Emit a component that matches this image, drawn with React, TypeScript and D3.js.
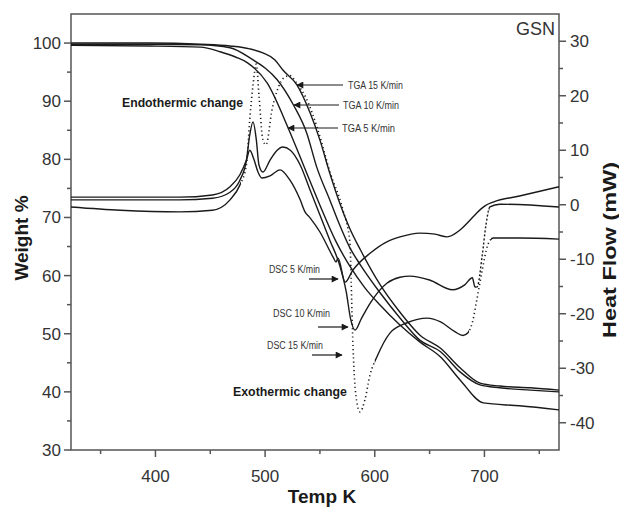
import React from 'react';
import * as d3 from 'd3';

// axis domains and ticks
const tempDomain = [323, 768];
const weightDomain = [30, 105];
const heatDomain = [-45, 35];
const tempTicks = [400, 500, 600, 700];
const tempMinor = [350, 450, 550, 650, 750];
const weightTicks = [30, 40, 50, 60, 70, 80, 90, 100];
const weightMinor = [35, 45, 55, 65, 75, 85, 95];
const heatTicks = [-40, -30, -20, -10, 0, 10, 20, 30];
const heatMinor = [-35, -25, -15, -5, 5, 15, 25];

// TGA curves: [Temp K, Weight %]
const tga15 = [[323, 100], [395, 100], [441, 99.8], [468, 99.5], [486, 99], [498, 98.3], [509, 97.1], [516, 95.4], [529, 92.8], [541, 88], [550, 83.3], [559, 77.6], [568, 72.5], [577, 68.2], [587, 64.4], [605, 58.4], [623, 53.7], [641, 49.8], [660, 47.5], [678, 44.1], [696, 41.5], [714, 41], [742, 40.7], [768, 40.3]];
const tga10 = [[323, 99.8], [395, 99.8], [441, 99.7], [468, 99.2], [489, 97.1], [500, 95.7], [511, 93.7], [526, 89.3], [538, 84.5], [547, 78.7], [559, 73], [568, 68.7], [577, 64.9], [587, 61.8], [605, 57], [623, 52.7], [641, 48.9], [660, 46.9], [678, 43.4], [696, 41.2], [714, 40.7], [742, 40.3], [768, 40]];
const tga5 = [[323, 99.6], [395, 99.5], [441, 99.3], [459, 98.5], [473, 97.6], [484, 96.6], [502, 93.1], [521, 85.4], [532, 80.4], [538, 77.6], [550, 72.1], [564, 66.1], [577, 61.7], [591, 57.9], [605, 54.9], [623, 51.5], [641, 48.6], [660, 46], [678, 42], [699, 38.1], [732, 37.6], [768, 36.9]];

// DSC curves: [Temp K, Heat Flow mW]
const dsc5 = [[323, 1.4], [368, 1.4], [422, 1.4], [452, 1.8], [468, 3.3], [477, 5.5], [483, 8.2], [486, 10], [490, 8.2], [493.5, 6], [497, 4.9], [504.5, 5.3], [513.6, 6.4], [522.7, 4.5], [532, 0.9], [536.4, -1.3], [541, -2.4], [550, -5], [562, -9.6], [564.7, -10.5], [566.5, -9.8], [573, -14.2], [580, -12], [595.7, -8.9], [611, -6.8], [623, -5.9], [641, -5.2], [655, -5.4], [666, -5.9], [678, -4.6], [687, -2.8], [693, -1.5], [700.5, -0.2], [708, 0.5], [732, 1.6], [768, 3.3]];
const dsc10 = [[323, 0.9], [368, 0.9], [422, 0.9], [452, 1.2], [468, 2.3], [477, 4.5], [483, 8.2], [486, 12.8], [489, 15.2], [492, 11.9], [494.4, 7.3], [498, 6], [504.5, 8.2], [511, 10], [516, 10.6], [523, 10], [532, 7.3], [541, 2.7], [550, -1.9], [559, -6.5], [568, -11.1], [574, -16], [578, -21], [582, -23], [588, -20.8], [596, -18], [611, -14.4], [623, -13.3], [632, -13.1], [650, -13.8], [671, -15.6], [682, -14.7], [689, -13.4], [691.4, -15.1], [693.2, -15.1], [698, -9.3], [701.4, -3.7], [705, -0.4], [714, 0.1], [768, -0.4]];
const dsc15 = [[323, -0.4], [368, -1], [422, -1.3], [452, -1], [468, 0.9], [477, 3.6], [483, 7.3], [486, 15.6], [489, 22], [492, 25.8], [494.4, 20.1], [498, 11.9], [500.8, 11], [506.3, 17.4], [511.8, 21.4], [517.2, 23.3], [522.7, 23.7], [529.1, 22.2], [537.3, 19.6], [548.2, 13.7], [559.2, 6], [571, -1], [577.4, -7], [578.5, -14], [579.5, -22], [581, -30], [583.5, -36], [586.5, -38], [591, -35.8], [595.7, -31.2], [602, -27.9], [614, -23.5], [629, -21.7], [648, -20.8], [660, -21.5], [673, -23.3], [680.5, -24], [685, -23.5], [689.6, -21.1], [693, -17.5], [698, -12], [703, -7.4], [708, -6.1], [732, -6.1], [768, -6.3]];

// temperature ranges where the sparse DSC samples show as dots
const dsc15Dotted = [[478, 600], [686, 706]];
const dsc10Dotted = [[693, 704]];

const font = '"Liberation Sans", Arial, sans-serif';
const ink = '#1a1a1a';
const axisColor = '#555';
const textColor = '#333';

export default function App() {
  const left = 71, right = 559, top = 14, bottom = 450;
  const x = d3.scaleLinear().domain(tempDomain).range([left, right]);
  const yW = d3.scaleLinear().domain(weightDomain).range([bottom, top]);
  const yH = d3.scaleLinear().domain(heatDomain).range([bottom, top]);

  const lineW = d3.line<number[]>().x(d => x(d[0])).y(d => yW(d[1])).curve(d3.curveMonotoneX);
  const lineH = d3.line<number[]>().x(d => x(d[0])).y(d => yH(d[1])).curve(d3.curveMonotoneX);

  const clipRects = (ranges: number[][]) => ranges.map((r, i) => (
    <rect key={i} x={x(r[0])} y={top} width={x(r[1]) - x(r[0])} height={bottom - top} />
  ));
  const outsideRanges = (ranges: number[][]) => {
    const out: number[][] = [];
    let start = tempDomain[0];
    ranges.forEach(r => { out.push([start, r[0]]); start = r[1]; });
    out.push([start, tempDomain[1]]);
    return out;
  };

  const smallText = { fontFamily: font, fontSize: 10, fill: textColor };
  const tickText = { fontFamily: font, fontSize: 17, fill: textColor };

  return (
    <div style={{ position: 'absolute', left: 0, top: 0 }}>
      <svg width={619} height={508} viewBox="0 0 619 508" style={{ display: 'block', background: '#fff' }}>
        <defs>
          <marker id="arr" viewBox="0 0 10 10" refX="9" refY="5" markerWidth="9" markerHeight="7" orient="auto" markerUnits="userSpaceOnUse">
            <path d="M0,0 L10,5 L0,10 z" fill={ink} />
          </marker>
          <clipPath id="d15dot">{clipRects(dsc15Dotted)}</clipPath>
          <clipPath id="d15solid">{clipRects(outsideRanges(dsc15Dotted))}</clipPath>
          <clipPath id="d10dot">{clipRects(dsc10Dotted)}</clipPath>
          <clipPath id="d10solid">{clipRects(outsideRanges(dsc10Dotted))}</clipPath>
        </defs>

        {/* frame */}
        <rect x={left} y={top} width={right - left} height={bottom - top} fill="none" stroke={axisColor} strokeWidth={1.5} />

        {/* bottom axis */}
        {tempTicks.map(t => (
          <g key={t}>
            <line x1={x(t)} x2={x(t)} y1={bottom} y2={bottom + 7} stroke={axisColor} strokeWidth={1.5} />
            <text x={x(t)} y={482} textAnchor="middle" {...tickText}>{t}</text>
          </g>
        ))}
        {tempMinor.map(t => (
          <line key={t} x1={x(t)} x2={x(t)} y1={bottom} y2={bottom + 4} stroke={axisColor} strokeWidth={1.5} />
        ))}

        {/* left axis */}
        {weightTicks.map(t => (
          <g key={t}>
            <line x1={left - 7} x2={left} y1={yW(t)} y2={yW(t)} stroke={axisColor} strokeWidth={1.5} />
            <text x={61} y={yW(t) + 6} textAnchor="end" {...tickText}>{t}</text>
          </g>
        ))}
        {weightMinor.map(t => (
          <line key={t} x1={left - 4} x2={left} y1={yW(t)} y2={yW(t)} stroke={axisColor} strokeWidth={1.5} />
        ))}

        {/* right axis */}
        {heatTicks.map(t => (
          <g key={t}>
            <line x1={right} x2={right + 7} y1={yH(t)} y2={yH(t)} stroke={axisColor} strokeWidth={1.5} />
            <text x={570} y={yH(t) + 6} textAnchor="start" {...tickText}>{t}</text>
          </g>
        ))}
        {heatMinor.map(t => (
          <line key={t} x1={right} x2={right + 4} y1={yH(t)} y2={yH(t)} stroke={axisColor} strokeWidth={1.5} />
        ))}

        {/* axis titles */}
        <text x={322} y={503} textAnchor="middle" fontFamily={font} fontSize={19} fontWeight="bold" fill={ink}>Temp K</text>
        <text transform="translate(28,238) rotate(-90)" textAnchor="middle" fontFamily={font} fontSize={19} fontWeight="bold" fill={ink}>Weight %</text>
        <text transform="translate(616,250) rotate(-90)" textAnchor="middle" fontFamily={font} fontSize={19} fontWeight="bold" fill={ink} textLength={176} lengthAdjust="spacingAndGlyphs">Heat Flow (mW)</text>
        <text x={555} y={35} textAnchor="end" fontFamily={font} fontSize={18} fill={textColor}>GSN</text>

        {/* TGA curves */}
        {[tga15, tga10, tga5].map((d, i) => (
          <path key={i} d={lineW(d) || ''} fill="none" stroke={ink} strokeWidth={1.4} />
        ))}

        {/* DSC curves */}
        <path d={lineH(dsc5) || ''} fill="none" stroke={ink} strokeWidth={1.4} />
        <path d={lineH(dsc10) || ''} fill="none" stroke={ink} strokeWidth={1.4} clipPath="url(#d10solid)" />
        <path d={lineH(dsc10) || ''} fill="none" stroke={ink} strokeWidth={1.4} strokeDasharray="2 2" clipPath="url(#d10dot)" />
        <path d={lineH(dsc15) || ''} fill="none" stroke={ink} strokeWidth={1.4} clipPath="url(#d15solid)" />
        <path d={lineH(dsc15) || ''} fill="none" stroke={ink} strokeWidth={1.6} strokeDasharray="1.2 3" clipPath="url(#d15dot)" />

        {/* annotations */}
        <text x={122} y={107} fontFamily={font} fontSize={13} fontWeight="bold" fill={ink} textLength={121} lengthAdjust="spacingAndGlyphs">Endothermic change</text>
        <text x={233} y={396} fontFamily={font} fontSize={13} fontWeight="bold" fill={ink} textLength={114} lengthAdjust="spacingAndGlyphs">Exothermic change</text>

        <line x1={343} y1={85} x2={297} y2={85} stroke={ink} strokeWidth={1.2} markerEnd="url(#arr)" />
        <text x={348} y={89} {...smallText} textLength={55} lengthAdjust="spacingAndGlyphs">TGA 15 K/min</text>
        <line x1={339} y1={105} x2={294} y2={105} stroke={ink} strokeWidth={1.2} markerEnd="url(#arr)" />
        <text x={343} y={109} {...smallText} textLength={56} lengthAdjust="spacingAndGlyphs">TGA 10 K/min</text>
        <line x1={338} y1={128} x2={288} y2={128} stroke={ink} strokeWidth={1.2} markerEnd="url(#arr)" />
        <text x={342} y={132} {...smallText} textLength={53} lengthAdjust="spacingAndGlyphs">TGA 5 K/min</text>

        <text x={269} y={273} {...smallText} textLength={51} lengthAdjust="spacingAndGlyphs">DSC 5 K/min</text>
        <line x1={309} y1={279} x2={338} y2={279} stroke={ink} strokeWidth={1.2} markerEnd="url(#arr)" />
        <text x={273} y={317} {...smallText} textLength={57} lengthAdjust="spacingAndGlyphs">DSC 10 K/min</text>
        <line x1={318} y1={327} x2={348} y2={327} stroke={ink} strokeWidth={1.2} markerEnd="url(#arr)" />
        <text x={267} y={349} {...smallText} textLength={56} lengthAdjust="spacingAndGlyphs">DSC 15 K/min</text>
        <line x1={312} y1={355} x2={342} y2={355} stroke={ink} strokeWidth={1.2} markerEnd="url(#arr)" />
      </svg>
    </div>
  );
}
